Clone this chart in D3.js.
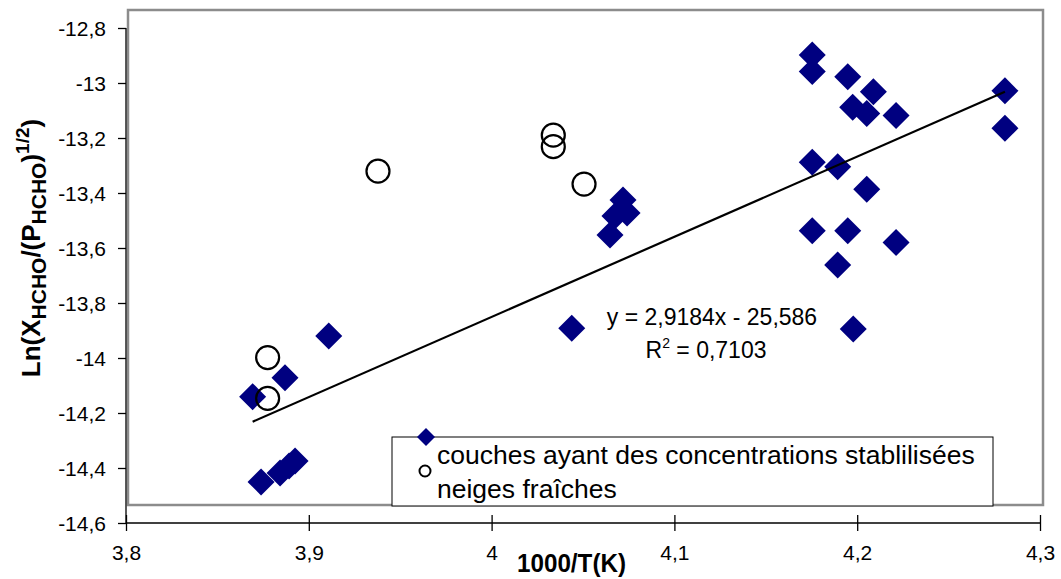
<!DOCTYPE html>
<html><head><meta charset="utf-8">
<script src="https://cdn.jsdelivr.net/npm/d3@7"></script>
<style>
body{margin:0;background:#fff}
svg{display:block}
text{font-family:"Liberation Sans",Arial,sans-serif;fill:#000}
</style>
</head><body>
<svg id="chart" width="1061" height="579"></svg>
<script>
// ---- data ----
const xTicks = [3.8, 3.9, 4.0, 4.1, 4.2, 4.3];
const xTickLabels = ["3,8", "3,9", "4", "4,1", "4,2", "4,3"];
const yTicks = [-12.8, -13.0, -13.2, -13.4, -13.6, -13.8, -14.0, -14.2, -14.4, -14.6];
const yTickLabels = ["-12,8", "-13", "-13,2", "-13,4", "-13,6", "-13,8", "-14", "-14,2", "-14,4", "-14,6"];

// couches ayant des concentrations stabilisées (diamonds)
const stabX = [3.8681, 3.8858, 3.9097, 3.8727, 3.8831, 3.8880, 3.8913, 4.0425,
               4.0705, 4.0727, 4.0661, 4.0634,
               4.1739, 4.1739, 4.1933, 4.2073, 4.1960, 4.2037, 4.2197, 4.2792, 4.2792,
               4.1739, 4.1878, 4.2037, 4.1739, 4.1933, 4.2197, 4.1878, 4.1963];
const stabY = [-14.206, -14.137, -13.985, -14.516, -14.484, -14.458, -14.440, -13.957,
               -13.491, -13.538, -13.549, -13.618,
               -12.964, -13.024, -13.043, -13.097, -13.154, -13.176, -13.184, -13.094, -13.230,
               -13.354, -13.370, -13.452, -13.603, -13.603, -13.645, -13.727, -13.960];

// neiges fraîches (open circles)
const freshX = [3.8763, 3.8763, 3.9366, 4.0324, 4.0324, 4.0492];
const freshY = [-14.064, -14.212, -13.386, -13.255, -13.297, -13.433];

const slope = 2.9184, intercept = -25.586;
const eqText = "y = 2,9184x - 25,586";
const r2Text = "0,7103";
const seriesNames = ["couches ayant des concentrations stablilisées", "neiges fraîches"];

// ---- drawing ----
const svg = d3.select("#chart");
const navy = "#000080";
const FONT = "'Liberation Sans',Arial,sans-serif";

// axis scales (as drawn) and plot-area scales (data)
const xAxisScale = d3.scaleLinear().domain([3.8, 4.3]).range([126, 1040]);
const yAxisScale = d3.scaleLinear().domain([-14.6, -12.8]).range([523, 28]);
const x = d3.scaleLinear().domain([3.8, 4.3]).range([128, 1043]);
const y = d3.scaleLinear().domain([-14.6, -12.8]).range([505, 10]);

// plot area border
svg.append("rect").attr("x", x(3.8)).attr("y", y(-12.8))
  .attr("width", x(4.3) - x(3.8)).attr("height", y(-14.6) - y(-12.8))
  .attr("fill", "none").attr("stroke", "#8c8c8c").attr("stroke-width", 2.5);

// y axis
const yAxis = d3.axisLeft(yAxisScale).tickValues(yTicks)
  .tickFormat((d, i) => yTickLabels[i]).tickSize(8).tickPadding(12);
const gy = svg.append("g").attr("transform", `translate(${xAxisScale(3.8)},0)`).call(yAxis);
gy.attr("font-size", null).attr("font-family", null);
gy.select(".domain").attr("d", `M0,${yAxisScale(-12.8)}V${yAxisScale(-14.6)}`).attr("stroke", "#000").attr("stroke-width", 1.3);
gy.selectAll(".tick line").attr("stroke", "#000").attr("stroke-width", 1.3);
gy.selectAll(".tick text").style("font-size", "21px").style("font-family", FONT).attr("dy", "0.34em");

// x axis
const xAxis = d3.axisBottom(xAxisScale).tickValues(xTicks)
  .tickFormat((d, i) => xTickLabels[i]).tickSize(8).tickPadding(14);
const gx = svg.append("g").attr("transform", `translate(0,${yAxisScale(-14.6)})`).call(xAxis);
gx.attr("font-size", null).attr("font-family", null);
gx.select(".domain").attr("d", `M${xAxisScale(3.8)},0H${xAxisScale(4.3)}`).attr("stroke", "#000").attr("stroke-width", 1.3);
gx.selectAll(".tick line").attr("y1", -8).attr("y2", 8).attr("stroke", "#000").attr("stroke-width", 1.3);
gx.selectAll(".tick text").style("font-size", "21px").style("font-family", FONT);

// diamonds
const diamond = h => `M0,${-h}L${h},0L0,${h}L${-h},0Z`;
svg.append("g").selectAll("path").data(stabX.map((d, i) => [d, stabY[i]])).join("path")
  .attr("d", diamond(13.5))
  .attr("transform", d => `translate(${x(d[0])},${y(d[1])})`)
  .attr("fill", navy);

// circles
svg.append("g").selectAll("circle").data(freshX.map((d, i) => [d, freshY[i]])).join("circle")
  .attr("cx", d => x(d[0])).attr("cy", d => y(d[1])).attr("r", 11.5)
  .attr("fill", "none").attr("stroke", "#000").attr("stroke-width", 2.2);

// trend line
const xmin = d3.min(stabX), xmax = d3.max(stabX);
svg.append("line")
  .attr("x1", x(xmin)).attr("y1", y(slope * xmin + intercept))
  .attr("x2", x(xmax)).attr("y2", y(slope * xmax + intercept))
  .attr("stroke", "#000").attr("stroke-width", 2.2);

// equation
svg.append("text").attr("text-anchor", "middle").attr("x", 712).attr("y", 325)
  .style("font-size", "23px").text(eqText);
const l2 = svg.append("text").attr("text-anchor", "middle").attr("x", 706).attr("y", 358).style("font-size", "23px");
l2.append("tspan").text("R");
l2.append("tspan").attr("dy", -10).style("font-size", "14px").text("2");
l2.append("tspan").attr("dy", 10).text(" = " + r2Text);

// legend
svg.append("rect").attr("x", 392).attr("y", 437).attr("width", 601).attr("height", 69)
  .attr("fill", "#fff").attr("stroke", "#000").attr("stroke-width", 1);
svg.append("path").attr("d", diamond(9)).attr("transform", "translate(426,437)").attr("fill", navy);
svg.append("circle").attr("cx", 425).attr("cy", 471).attr("r", 5.5)
  .attr("fill", "none").attr("stroke", "#000").attr("stroke-width", 2);
svg.append("text").attr("x", 437).attr("y", 464).style("font-size", "26.5px").text(seriesNames[0]);
svg.append("text").attr("x", 437).attr("y", 498).style("font-size", "26.5px").text(seriesNames[1]);

// axis titles
svg.append("text").attr("x", 517).attr("y", 572)
  .attr("textLength", 109).attr("lengthAdjust", "spacingAndGlyphs")
  .style("font-size", "25px").style("font-weight", "bold")
  .text("1000/T(K)");

const yt = svg.append("text").attr("transform", "translate(40,248) rotate(-90)")
  .attr("text-anchor", "middle").style("font-size", "26px").style("font-weight", "bold");
yt.append("tspan").text("Ln(X");
yt.append("tspan").attr("dy", 6).style("font-size", "21px").text("HCHO");
yt.append("tspan").attr("dy", -6).text("/(P");
yt.append("tspan").attr("dy", 6).style("font-size", "21px").text("HCHO");
yt.append("tspan").attr("dy", -6).text(")");
yt.append("tspan").attr("dy", -11).style("font-size", "19px").text("1/2");
yt.append("tspan").attr("dy", 11).text(")");
</script>
</body></html>
